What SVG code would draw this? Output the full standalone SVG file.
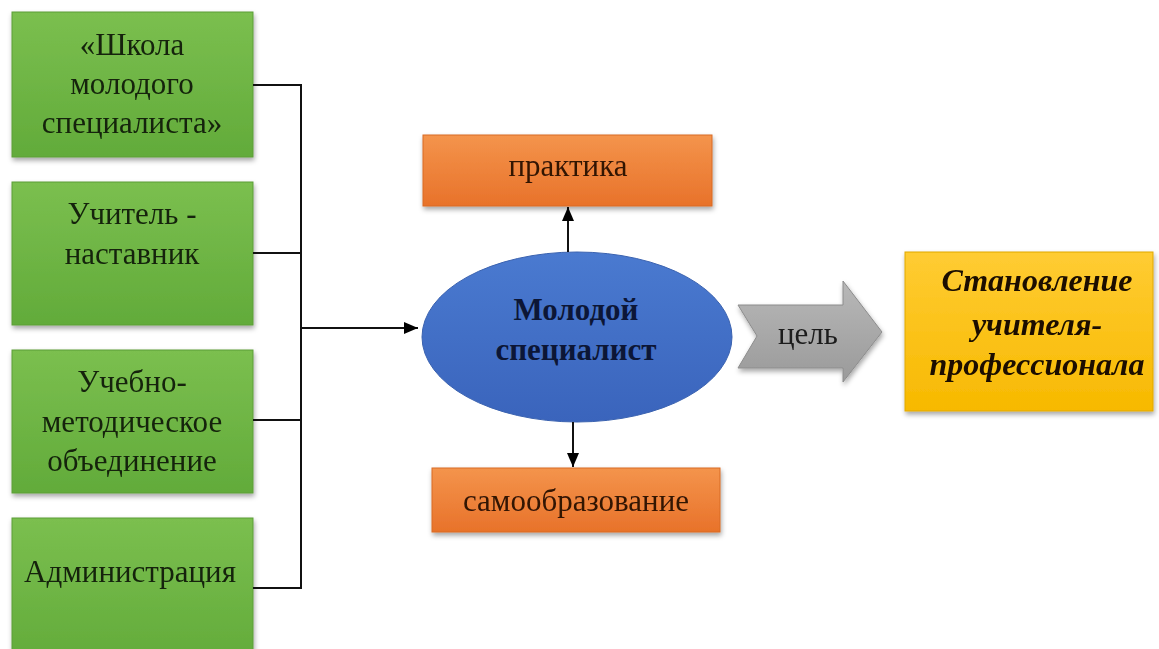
<svg xmlns="http://www.w3.org/2000/svg" width="1159" height="649" viewBox="0 0 1159 649">
<defs>
<linearGradient id="gGreen" x1="0" y1="0" x2="0" y2="1"><stop offset="0" stop-color="#7bbf4f"/><stop offset="1" stop-color="#62ab3a"/></linearGradient>
<linearGradient id="gOrange" x1="0" y1="0" x2="0" y2="1"><stop offset="0" stop-color="#f4944c"/><stop offset="1" stop-color="#e8722a"/></linearGradient>
<linearGradient id="gBlue" x1="0" y1="0" x2="0" y2="1"><stop offset="0" stop-color="#4a7ad0"/><stop offset="1" stop-color="#3a64bc"/></linearGradient>
<linearGradient id="gGrey" x1="0" y1="0" x2="0" y2="1"><stop offset="0" stop-color="#b8b8b8"/><stop offset="1" stop-color="#9a9a9a"/></linearGradient>
<linearGradient id="gYellow" x1="0" y1="0" x2="0" y2="1"><stop offset="0" stop-color="#ffcc33"/><stop offset="1" stop-color="#f7b900"/></linearGradient>
<filter id="sh" x="-10%" y="-10%" width="125%" height="130%"><feDropShadow dx="1" dy="3" stdDeviation="2.5" flood-color="#000" flood-opacity="0.35"/></filter>
<marker id="ah" markerWidth="14" markerHeight="12" refX="14" refY="6" orient="auto" markerUnits="userSpaceOnUse"><path d="M0,0 L14,6 L0,12 Z" fill="#000"/></marker>
<style>
.g{fill:url(#gGreen);stroke:#5c9e38;stroke-width:1}
.o{fill:url(#gOrange);stroke:#d86a24;stroke-width:1}
.t{font-family:"Liberation Serif","Times New Roman",serif;font-size:31px;text-anchor:middle}
.tg{fill:#12240a}
.to{fill:#321406}
.tb{fill:#0c1636;font-weight:bold}
.ty{fill:#1a0f00;font-weight:bold;font-style:italic;font-size:32px}
.c{fill:none;stroke:#111;stroke-width:2}
</style>
</defs>
<rect width="1159" height="649" fill="#fff"/>
<g id="n1" filter="url(#sh)"><rect class="g" x="12" y="12" width="241" height="145"/>
<text class="t tg" x="132" y="55">«Школа</text><text class="t tg" x="132" y="94">молодого</text><text class="t tg" x="132" y="133">специалиста»</text></g>
<g id="n2" filter="url(#sh)"><rect class="g" x="12" y="182" width="241" height="143"/>
<text class="t tg" x="132" y="224">Учитель -</text><text class="t tg" x="132" y="264">наставник</text></g>
<g id="n3" filter="url(#sh)"><rect class="g" x="12" y="350" width="241" height="143"/>
<text class="t tg" x="132" y="392">Учебно-</text><text class="t tg" x="132" y="432">методическое</text><text class="t tg" x="132" y="471">объединение</text></g>
<g id="n4" filter="url(#sh)"><rect class="g" x="12" y="518" width="241" height="145"/>
<text class="t tg" x="130" y="582">Администрация</text></g>
<g id="n5" filter="url(#sh)"><rect class="o" x="423" y="135" width="289" height="71"/>
<text class="t to" x="568" y="176">практика</text></g>
<g id="n6" filter="url(#sh)"><rect class="o" x="432" y="468" width="288" height="64"/>
<text class="t to" x="576" y="511">самообразование</text></g>
<g id="n7"><ellipse cx="577" cy="337" rx="155" ry="85" fill="url(#gBlue)" stroke="#3a62b0" stroke-width="1"/>
<text class="t tb" x="576" y="320">Молодой</text><text class="t tb" x="576" y="360">специалист</text></g>
<g id="n8" filter="url(#sh)"><path d="M738,305 L843,305 L843,281 L882,332 L843,382 L843,368 L738,368 L757,336 Z" fill="url(#gGrey)" stroke="#8c8c8c" stroke-width="1"/>
<text class="t" x="808" y="344" fill="#1a1a1a">цель</text></g>
<g id="n9" filter="url(#sh)"><rect x="905" y="252" width="248" height="159" fill="url(#gYellow)" stroke="#e0a800" stroke-width="1"/>
<text class="t ty" x="1037" y="291">Становление</text><text class="t ty" x="1037" y="335">учителя-</text><text class="t ty" x="1037" y="375">профессионала</text></g>
<g id="connectors">
<path class="c" d="M253,85 H301 M253,253 H301 M253,420 H301 M253,588 H301 M301,84 V589"/>
<path class="c" d="M301,328 H418" marker-end="url(#ah)"/>
<path class="c" d="M568,252 V207" marker-end="url(#ah)"/>
<path class="c" d="M573,422 V467" marker-end="url(#ah)"/>
</g>
</svg>
